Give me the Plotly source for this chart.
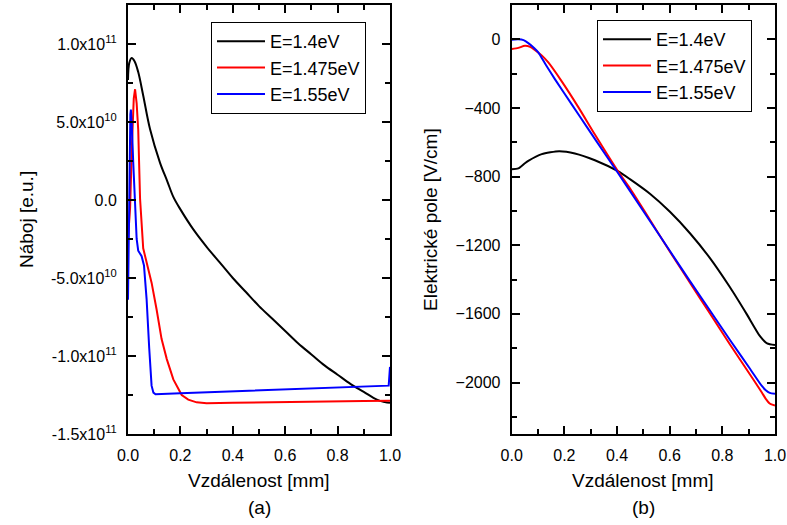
import plotly.graph_objects as go

# ---- panel (a): charge vs distance (values in units of 1e10) ----
x_a_14 = [0, 0.005, 0.014, 0.025, 0.039, 0.058, 0.084, 0.122, 0.15, 0.173, 0.2, 0.25, 0.3, 0.35,
          0.4, 0.45, 0.5, 0.55, 0.6, 0.65, 0.7, 0.75, 0.8, 0.85, 0.9, 0.95, 0.98, 1.0]
q_a_14 = [7.7, 8.8, 9.1, 8.9, 8.2, 6.7, 4.55, 2.4, 1.2, 0.2, -0.6, -1.9, -3.0, -4.0,
          -5.0, -5.9, -6.8, -7.6, -8.4, -9.2, -9.9, -10.6, -11.2, -11.8, -12.3, -12.8, -12.95, -13.0]

x_a_1475 = [0, 0.008, 0.015, 0.022, 0.027, 0.033, 0.039, 0.046, 0.058, 0.065, 0.075, 0.09, 0.109,
            0.128, 0.148, 0.173, 0.205, 0.23, 0.262, 0.3, 0.4, 0.5, 0.6, 0.7, 0.8, 0.9, 1.0]
q_a_1475 = [-2.5, -0.5, 3.5, 6.5, 7.1, 6.2, 4.5, 0.1, -3.1, -3.6, -4.2, -5.3, -7.0,
            -8.9, -10.2, -11.5, -12.5, -12.8, -12.97, -13.03, -13.0, -12.97, -12.95, -12.93, -12.91, -12.89, -12.87]

x_a_155 = [0, 0.003, 0.006, 0.009, 0.011, 0.014, 0.02, 0.026, 0.033, 0.039, 0.046, 0.052, 0.061,
           0.071, 0.081, 0.09, 0.097, 0.105, 0.2, 0.4, 0.6, 0.8, 0.995, 1.0]
q_a_155 = [-6.4, -1.0, 3.5, 5.5, 5.8, 5.0, 2.4, 0.0, -2.5, -3.25, -3.45, -3.6, -4.2,
           -6.35, -9.5, -11.9, -12.35, -12.45, -12.38, -12.25, -12.12, -12.0, -11.9, -10.7]

# ---- panel (b): electric field vs distance [V/cm] ----
x_b_14 = [0, 0.025, 0.05, 0.063, 0.114, 0.18, 0.24, 0.316, 0.405, 0.449, 0.525, 0.601, 0.677,
          0.753, 0.829, 0.892, 0.943, 0.97, 1.0]
e_b_14 = [-757, -752, -722, -708, -669, -652, -665, -705, -770, -815, -900, -1005, -1130,
          -1275, -1445, -1600, -1730, -1772, -1782]

x_b_1475 = [0, 0.025, 0.05, 0.07, 0.089, 0.115, 0.139, 0.19, 0.253, 0.316, 0.405, 0.449, 0.506,
            0.601, 0.677, 0.753, 0.829, 0.905, 0.95, 0.965, 0.98, 1.0]
e_b_1475 = [-57, -50, -38, -44, -64, -95, -135, -245, -395, -555, -772, -868, -1005,
            -1238, -1418, -1598, -1778, -1953, -2058, -2095, -2122, -2134]

x_b_155 = [0, 0.025, 0.045, 0.063, 0.085, 0.101, 0.13, 0.164, 0.228, 0.291, 0.354, 0.405, 0.449,
           0.525, 0.601, 0.677, 0.753, 0.829, 0.905, 0.95, 0.965, 0.98, 1.0]
e_b_155 = [-2, 0, -5, -22, -50, -76, -150, -232, -379, -523, -667, -782, -883,
           -1059, -1234, -1409, -1580, -1752, -1920, -2020, -2045, -2060, -2066]

labels = ["E=1.4eV", "E=1.475eV", "E=1.55eV"]
colors = ["black", "red", "blue"]

y_a_ticks = [1.0e11, 5.0e10, 0, -5.0e10, -1.0e11, -1.5e11]
y_a_text = ["1.0x10<sup>11</sup>", "5.0x10<sup>10</sup>", "0.0", "-5.0x10<sup>10</sup>",
            "-1.0x10<sup>11</sup>", "-1.5x10<sup>11</sup>"]

FONT = "Liberation Sans, Arial, sans-serif"

fig = go.Figure()

panel_a = [(x_a_14, q_a_14, "spline"), (x_a_1475, q_a_1475, "linear"), (x_a_155, q_a_155, "linear")]
for (xs, ys, shape), name, c in zip(panel_a, labels, colors):
    fig.add_trace(go.Scatter(x=xs, y=[v * 1e10 for v in ys], mode="lines", name=name,
                             line=dict(color=c, width=2, shape=shape),
                             xaxis="x", yaxis="y", legend="legend"))

panel_b = [(x_b_14, e_b_14), (x_b_1475, e_b_1475), (x_b_155, e_b_155)]
for (xs, ys), name, c in zip(panel_b, labels, colors):
    fig.add_trace(go.Scatter(x=xs, y=ys, mode="lines", name=name,
                             line=dict(color=c, width=2, shape="spline", smoothing=0.6),
                             xaxis="x2", yaxis="y2", legend="legend2"))

ax = dict(showline=True, linecolor="black", linewidth=2, mirror="ticks",
          ticks="inside", ticklen=8, tickwidth=1.5, tickcolor="black",
          showgrid=False, zeroline=False, automargin=False,
          tickfont=dict(size=16, color="black", family=FONT))

xa = dict(ax, range=[0, 1], tickvals=[0, 0.2, 0.4, 0.6, 0.8, 1.0], tickformat=".1f",
          ticklabelstandoff=6,
          minor=dict(ticks="inside", ticklen=5, tickwidth=1.5, tickcolor="black",
                     tickvals=[0.1, 0.3, 0.5, 0.7, 0.9]))

leg = dict(xanchor="left", yanchor="top", bordercolor="black", borderwidth=1, bgcolor="white",
           font=dict(size=18, family=FONT), itemwidth=48, tracegroupgap=0)

fig.update_layout(
    width=787, height=525,
    margin=dict(l=0, r=0, t=0, b=0),
    paper_bgcolor="white", plot_bgcolor="white",
    font=dict(family=FONT, color="black", size=16),
    xaxis=dict(xa, domain=[128 / 787, 390 / 787], anchor="y"),
    xaxis2=dict(xa, domain=[511.7 / 787, 775 / 787], anchor="y2"),
    yaxis=dict(ax, domain=[1 - 434 / 525, 1 - 5 / 525], anchor="x",
               range=[-1.5e11, 1.25e11], tickmode="array",
               tickvals=y_a_ticks, ticktext=y_a_text, ticklabelstandoff=6,
               minor=dict(ticks="inside", ticklen=5, tickwidth=1.5, tickcolor="black",
                          tickvals=[1.25e11, 7.5e10, 2.5e10, -2.5e10, -7.5e10, -1.25e11])),
    yaxis2=dict(ax, domain=[1 - 434 / 525, 1 - 5 / 525], anchor="x2",
                range=[-2300, 200], tickvals=[0, -400, -800, -1200, -1600, -2000],
                ticklabelstandoff=6,
                minor=dict(ticks="inside", ticklen=5, tickwidth=1.5, tickcolor="black",
                           tickvals=[200, -200, -600, -1000, -1400, -1800, -2200])),
    legend=dict(leg, x=211 / 787, y=1 - 22 / 525),
    legend2=dict(leg, x=597 / 787, y=1 - 20 / 525),
    showlegend=True,
)

ann = dict(xref="paper", yref="paper", showarrow=False, xanchor="center", yanchor="middle",
           font=dict(size=19, family=FONT, color="black"))
fig.add_annotation(ann, x=259 / 787, y=1 - 480 / 525, text="Vzdálenost [mm]")
fig.add_annotation(ann, x=643 / 787, y=1 - 480 / 525, text="Vzdálenost [mm]")
fig.add_annotation(ann, x=259 / 787, y=1 - 507 / 525, text="(a)")
fig.add_annotation(ann, x=643 / 787, y=1 - 507 / 525, text="(b)")
fig.add_annotation(ann, x=26 / 787, y=1 - 220 / 525, text="Náboj [e.u.]", textangle=-90)
fig.add_annotation(ann, x=430 / 787, y=1 - 220 / 525, text="Elektrické pole [V/cm]", textangle=-90)

# page has a default body margin; drop it so the figure sits at the window's corner
fig.write_html("out.html", config={"displayModeBar": False},
               post_script="document.body.style.margin='0';")
